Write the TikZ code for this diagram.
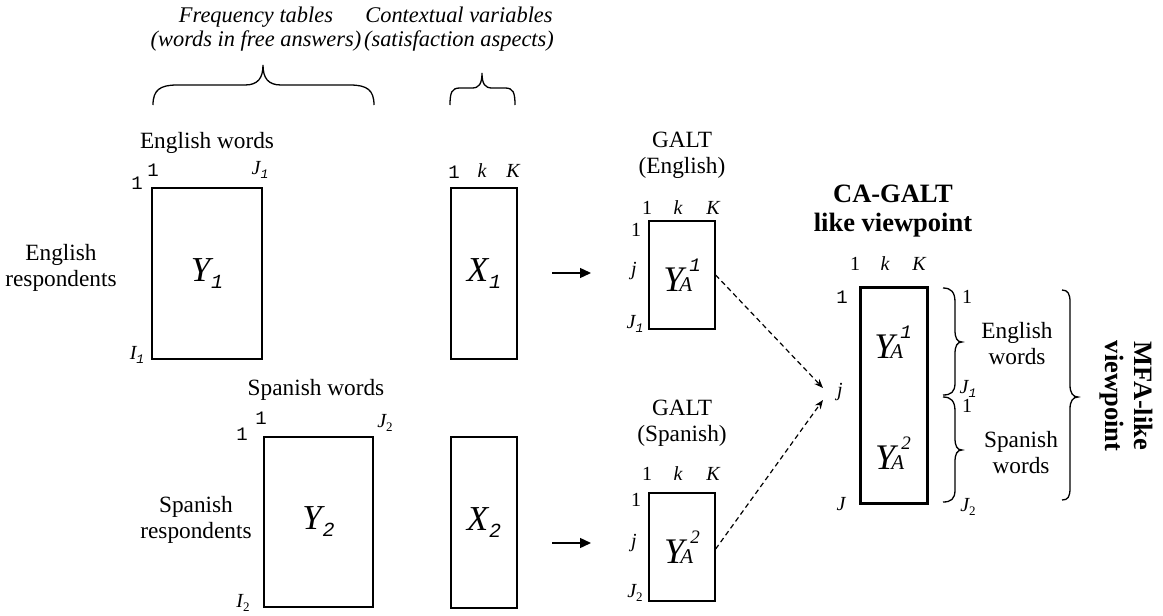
\documentclass[tikz,border=0pt]{standalone}
\usepackage{fontspec}
\setmainfont{Liberation Serif}
\newfontfamily\cour{Liberation Mono}
\usetikzlibrary{arrows.meta}
\newcommand{\fs}[1]{\fontsize{#1}{#1}\selectfont}
\newcommand{\mi}{\cour\itshape}
\newcommand{\bigsym}[2]{{\fs{35}\itshape #1}\kern1pt\raisebox{-7pt}{\fs{20}\mi #2}}
\newcommand{\ya}[1]{{\fs{36}\itshape Y}\kern-4pt\rlap{{\fs{21}\itshape A}}\kern10pt\raisebox{20pt}{\fs{19}#1}}
\newcommand{\lsub}[2]{{\itshape #1}\raisebox{-4pt}{\fs{13}#2}}
\begin{document}
\begin{tikzpicture}[x=1pt,y=-1pt,
  txt/.style={inner sep=0pt, align=center, font=\fontsize{23.3}{26}\selectfont},
  itxt/.style={inner sep=0pt, align=center, font=\fontsize{22.4}{24.5}\selectfont\itshape},
  btxt/.style={inner sep=0pt, align=center, font=\fontsize{26.5}{29}\selectfont\bfseries},
  lab/.style={inner sep=0pt, font=\fs{20}},
  ilab/.style={inner sep=0pt, font=\fs{20}\itshape},
  mono/.style={inner sep=0pt, font=\fs{19}\cour},
  tbl/.style={draw, line width=1.3pt, inner sep=0pt},
  brl/.style={line width=1.3pt},
  arr/.style={line width=1.4pt, -{Triangle[length=11pt,width=10pt]}},
  darr/.style={line width=1.2pt, dash pattern=on 5pt off 3.5pt, -{Stealth[length=9pt,width=7pt]}}
]
\useasboundingbox (0,0) rectangle (1163,616);

% top labels
\node[itxt] (freq) at (256,29) {Frequency tables\\(words in free answers)};
\node[itxt] (ctx) at (459,29) {Contextual variables\\(satisfaction aspects)};
\draw[brl] (153,105) .. controls (153,90) and (160,85) .. (177,85) -- (245,85)
  .. controls (258,85) and (263,78) .. (263,65) .. controls (263,78) and (268,85) .. (281,85)
  -- (350,85) .. controls (367,85) and (374,90) .. (374,105);
\draw[brl] (450,105) .. controls (450,92) and (452,88) .. (460,88) -- (472,88)
  .. controls (479,88) and (482,84) .. (482,73) .. controls (482,84) and (485,88) .. (492,88)
  -- (505,88) .. controls (513,88) and (515,92) .. (515,105);

% English block
\node[txt] (ew) at (207,143) {English words};
\node[txt] (er) at (61,268) {English\\respondents};
\node[tbl, minimum width=110pt, minimum height=171pt] (Y1) at (207,273.5) {\bigsym{Y}{1}};
\node[mono] (y1r) at (137,183) {1};
\node[mono] (y1c) at (153,170) {1};
\node[lab] (y1J) at (260,170) {\lsub{J}{\mi 1}};
\node[lab] (y1I) at (137,355) {\lsub{I}{\mi 1}};

\node[tbl, minimum width=66pt, minimum height=171pt] (X1) at (484,273.5) {\bigsym{X}{1}};
\node[mono] (x1a) at (454,172) {1};
\node[ilab] (x1b) at (482,171) {k};
\node[ilab] (x1c) at (513,171) {K};

\coordinate (a1s) at (552,273);
\coordinate (a1e) at (591,273);
\draw[arr] (a1s) -- (a1e);

\node[txt] (g1t) at (682,155) {GALT\\(English)};
\node[tbl, minimum width=66pt, minimum height=108pt] (GA1) at (682,275) {\ya{\mi 1}};
\node[lab] (g1a) at (647,208) {1};
\node[ilab] (g1b) at (678,208) {k};
\node[ilab] (g1c) at (713,208) {K};
\node[lab] (g1r) at (636,230) {1};
\node[ilab] (g1j) at (634,271) {j};
\node[lab] (g1J) at (635,324) {\lsub{J}{\mi 1}};

% Spanish block
\node[txt] (sw) at (316,390) {Spanish words};
\node[txt] (sr) at (196,520) {Spanish\\respondents};
\node[tbl, minimum width=109pt, minimum height=170pt] (Y2) at (318.5,522) {\bigsym{Y}{2}};
\node[mono] (y2r) at (242,434) {1};
\node[mono] (y2c) at (261,418) {1};
\node[lab] (y2J) at (385,423) {\lsub{J}{2}};
\node[lab] (y2I) at (243,603) {\lsub{I}{2}};

\node[tbl, minimum width=66pt, minimum height=171pt] (X2) at (484,522.5) {\bigsym{X}{2}};

\coordinate (a2s) at (552,543);
\coordinate (a2e) at (591,543);
\draw[arr] (a2s) -- (a2e);

\node[txt] (g2t) at (682,423) {GALT\\(Spanish)};
\node[tbl, minimum width=66pt, minimum height=108pt] (GA2) at (682,547) {\ya{\itshape 2}};
\node[lab] (g2a) at (647,474) {1};
\node[ilab] (g2b) at (678,474) {k};
\node[ilab] (g2c) at (713,474) {K};
\node[lab] (g2r) at (636,500) {1};
\node[ilab] (g2j) at (634,543) {j};
\node[lab] (g2J) at (635,593) {\lsub{J}{2}};

% CA-GALT
\node[btxt] (cat) at (893,211) {CA-GALT\\like viewpoint};
\node[draw, line width=3pt, minimum width=67pt, minimum height=216pt, inner sep=0pt] (CA) at (893.5,395) {};
\node[inner sep=0pt] (cy1) at (893,342) {\ya{\mi 1}};
\node[inner sep=0pt] (cy2) at (893,453) {\ya{\itshape 2}};
\node[lab] (caa) at (855,264) {1};
\node[ilab] (cab) at (885,264) {k};
\node[ilab] (cac) at (919,264) {K};
\node[mono] (car) at (842,297) {1};
\node[ilab] (caj) at (840,392) {j};
\node[ilab] (caJ) at (841,504) {J};

\coordinate (d1e) at (823,388);
\coordinate (d2e) at (823,400);
\draw[darr] (GA1.east) -- (d1e);
\draw[darr] ([yshift=-2pt]GA2.east) -- (d2e);

% right braces
\draw[brl] (943,288) .. controls (951,288) and (955,292) .. (955,302) -- (955,330)
  .. controls (955,338) and (957,342) .. (962,342) .. controls (957,342) and (955,346) .. (955,354)
  -- (955,383) .. controls (955,392) and (951,395) .. (943,395);
\draw[brl] (943,397) .. controls (951,397) and (955,401) .. (955,411) -- (955,438)
  .. controls (955,446) and (957,450) .. (962,450) .. controls (957,450) and (955,454) .. (955,462)
  -- (955,490) .. controls (955,499) and (951,502) .. (943,502);
\node[lab] (rb1) at (967,297) {1};
\node[lab] (rb2) at (968,389) {\lsub{J}{\mi 1}};
\node[lab] (rb3) at (967,406) {1};
\node[lab] (rb4) at (968,507) {\lsub{J}{2}};
\node[txt] (rew) at (1017,344) {English\\words};
\node[txt] (rsw) at (1021,453) {Spanish\\words};
\draw[brl] (1062,290) .. controls (1068,290) and (1070,294) .. (1070,302) -- (1070,385)
  .. controls (1070,393) and (1073,397) .. (1078,397) .. controls (1073,397) and (1070,401) .. (1070,409)
  -- (1070,488) .. controls (1070,497) and (1068,500) .. (1062,500);
\node[btxt, rotate=-90] (mfa) at (1126,396) {MFA-like\\viewpoint};
\end{tikzpicture}
\end{document}
